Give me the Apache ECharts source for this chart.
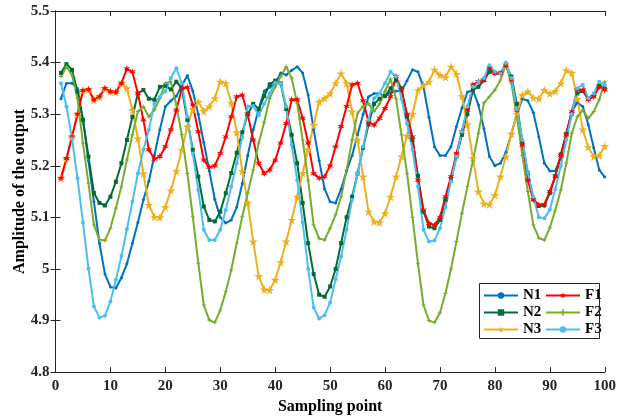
<!DOCTYPE html>
<html>
<head>
<meta charset="utf-8">
<script src="https://cdn.jsdelivr.net/npm/echarts@6/dist/echarts.min.js"></script>
<style>
  html, body { margin: 0; padding: 0; background: #fff; }
  #chart { width: 619px; height: 420px; }
</style>
</head>
<body>
<div id="chart"></div>
<script>
  // sampled outputs, one value per sampling point 1..100
  var n1 = [
    5.33, 5.36, 5.36, 5.35, 5.29, 5.21, 5.13, 5.05, 4.99, 4.965,
    4.963, 4.983, 5.01, 5.05, 5.09, 5.134, 5.17, 5.22, 5.27, 5.315,
    5.326, 5.335, 5.355, 5.375, 5.345, 5.30, 5.245, 5.19, 5.135, 5.10,
    5.089, 5.095, 5.12, 5.165, 5.22, 5.27, 5.31, 5.345, 5.352, 5.36,
    5.38, 5.376, 5.385, 5.392, 5.38, 5.337, 5.27, 5.21, 5.155, 5.13,
    5.128, 5.155, 5.19, 5.22, 5.26, 5.30, 5.334, 5.34, 5.34, 5.334,
    5.342, 5.345, 5.345, 5.365, 5.386, 5.382, 5.353, 5.294, 5.237, 5.22,
    5.22, 5.237, 5.276, 5.312, 5.343, 5.346, 5.318, 5.272, 5.218, 5.2,
    5.205, 5.226, 5.262, 5.3, 5.33, 5.326, 5.303, 5.256, 5.205, 5.19,
    5.19, 5.216, 5.263, 5.305, 5.322, 5.315, 5.28, 5.235, 5.192, 5.178
  ]
  var n2 = [
    5.38, 5.397, 5.386, 5.344, 5.289, 5.218, 5.147, 5.128, 5.123, 5.14,
    5.169, 5.205, 5.25, 5.295, 5.34, 5.347, 5.33, 5.328, 5.353, 5.355,
    5.348, 5.363, 5.35, 5.289, 5.231, 5.179, 5.121, 5.095, 5.092, 5.111,
    5.147, 5.186, 5.225, 5.265, 5.30, 5.32, 5.31, 5.335, 5.358, 5.365,
    5.36, 5.31, 5.26, 5.205, 5.128, 5.05, 4.99, 4.95, 4.946, 4.966,
    5.0, 5.05, 5.10, 5.14, 5.185, 5.235, 5.28, 5.32, 5.33, 5.335,
    5.35, 5.366, 5.35, 5.295, 5.25, 5.18, 5.111, 5.082, 5.079, 5.095,
    5.134, 5.172, 5.218, 5.26, 5.30, 5.347, 5.353, 5.366, 5.382, 5.38,
    5.38, 5.395, 5.373, 5.32, 5.245, 5.186, 5.135, 5.122, 5.123, 5.147,
    5.18, 5.222, 5.262, 5.3, 5.34, 5.345, 5.33, 5.335, 5.355, 5.35
  ]
  var n3 = [
    5.176, 5.214, 5.256, 5.30, 5.346, 5.348, 5.328, 5.334, 5.35, 5.344,
    5.343, 5.36, 5.35, 5.308, 5.253, 5.185, 5.124, 5.101, 5.10, 5.12,
    5.152, 5.19, 5.231, 5.276, 5.31, 5.324, 5.306, 5.315, 5.331, 5.363,
    5.36, 5.322, 5.265, 5.19, 5.128, 5.053, 4.986, 4.96, 4.959, 4.979,
    5.013, 5.053, 5.095, 5.14, 5.186, 5.232, 5.279, 5.324, 5.331, 5.34,
    5.36, 5.379, 5.36, 5.305, 5.25, 5.179, 5.111, 5.092, 5.09, 5.108,
    5.14, 5.179, 5.218, 5.258, 5.30, 5.347, 5.356, 5.363, 5.386, 5.376,
    5.372, 5.392, 5.378, 5.335, 5.28, 5.215, 5.15, 5.127, 5.125, 5.143,
    5.179, 5.218, 5.262, 5.3, 5.337, 5.344, 5.332, 5.33, 5.347, 5.34,
    5.345, 5.36, 5.385, 5.38, 5.33, 5.27, 5.236, 5.218, 5.22, 5.238
  ]
  var f1 = [
    5.176, 5.214, 5.256, 5.30, 5.346, 5.348, 5.328, 5.334, 5.35, 5.344,
    5.343, 5.36, 5.388, 5.382, 5.34, 5.289, 5.231, 5.213, 5.218, 5.237,
    5.27, 5.308, 5.35, 5.352, 5.318, 5.266, 5.211, 5.197, 5.2, 5.224,
    5.256, 5.295, 5.334, 5.337, 5.30, 5.25, 5.205, 5.185, 5.192, 5.211,
    5.244, 5.282, 5.328, 5.328, 5.292, 5.244, 5.185, 5.176, 5.179, 5.2,
    5.237, 5.276, 5.315, 5.357, 5.36, 5.326, 5.285, 5.279, 5.292, 5.311,
    5.334, 5.373, 5.347, 5.30, 5.256, 5.172, 5.114, 5.088, 5.085, 5.10,
    5.14, 5.179, 5.224, 5.266, 5.308, 5.357, 5.363, 5.366, 5.389, 5.379,
    5.379, 5.395, 5.366, 5.308, 5.24, 5.172, 5.134, 5.124, 5.125, 5.15,
    5.18, 5.22, 5.26, 5.305, 5.347, 5.347, 5.328, 5.334, 5.353, 5.347
  ]
  var f2 = [
    5.373, 5.392, 5.376, 5.331, 5.244, 5.166, 5.085, 5.057, 5.055, 5.079,
    5.118, 5.16, 5.211, 5.26, 5.305, 5.315, 5.295, 5.308, 5.331, 5.36,
    5.363, 5.318, 5.26, 5.185, 5.101, 5.011, 4.93, 4.901, 4.896, 4.92,
    4.956, 4.998, 5.05, 5.101, 5.147, 5.192, 5.244, 5.285, 5.331, 5.353,
    5.373, 5.392, 5.37, 5.321, 5.25, 5.172, 5.085, 5.059, 5.056, 5.079,
    5.105, 5.14, 5.192, 5.25, 5.302, 5.315, 5.32, 5.305, 5.32, 5.345,
    5.368, 5.33, 5.26, 5.185, 5.10, 5.01, 4.93, 4.90, 4.896, 4.915,
    4.953, 5.0, 5.053, 5.108, 5.16, 5.21, 5.263, 5.322, 5.334, 5.347,
    5.366, 5.397, 5.36, 5.295, 5.22, 5.15, 5.085, 5.06, 5.056, 5.08,
    5.114, 5.153, 5.205, 5.263, 5.295, 5.308, 5.292, 5.305, 5.328, 5.363
  ]
  var f3 = [
    5.36, 5.315, 5.253, 5.176, 5.09, 5.001, 4.927, 4.906, 4.909, 4.937,
    4.979, 5.025, 5.077, 5.13, 5.185, 5.231, 5.27, 5.32, 5.334, 5.344,
    5.37, 5.389, 5.36, 5.295, 5.224, 5.153, 5.076, 5.056, 5.056, 5.076,
    5.114, 5.16, 5.205, 5.255, 5.315, 5.316, 5.298, 5.32, 5.34, 5.361,
    5.36, 5.315, 5.24, 5.172, 5.09, 5.0, 4.925, 4.904, 4.91, 4.935,
    4.98, 5.024, 5.076, 5.134, 5.185, 5.237, 5.289, 5.331, 5.34, 5.36,
    5.382, 5.373, 5.33, 5.282, 5.231, 5.16, 5.076, 5.053, 5.055, 5.079,
    5.12, 5.17, 5.218, 5.266, 5.315, 5.353, 5.363, 5.37, 5.395, 5.382,
    5.379, 5.40, 5.37, 5.31, 5.25, 5.186, 5.14, 5.10, 5.098, 5.115,
    5.155, 5.2, 5.25, 5.3, 5.35, 5.357, 5.331, 5.34, 5.363, 5.357
  ]

  var FONT = 'Liberation Serif'
  var starPath = 'path://M50,0 L61,35 L98,35 L68,57 L79,91 L50,70 L21,91 L32,57 L2,35 L39,35 Z'
  var asterPath = 'path://M50,0 L60,33 L93,25 L70,50 L93,75 L60,67 L50,100 L40,67 L7,75 L30,50 L7,25 L40,33 Z'
  var plusPath = 'path://M38,0 H62 V38 H100 V62 H62 V100 H38 V62 H0 V38 H38 Z'

  function pts (arr) {
    return arr.map(function (v, i) { return [i + 1, v] })
  }

  function line (name, arr, color, symbol, size) {
    return {
      name: name,
      type: 'line',
      data: pts(arr),
      symbol: symbol,
      symbolSize: size,
      showAllSymbol: true,
      lineStyle: { color: color, width: 2 },
      itemStyle: { color: color },
      emphasis: { disabled: true }
    }
  }

  var axisLine = { show: true, lineStyle: { color: '#262626', width: 1 } }
  var tick = { inside: true, length: 5, lineStyle: { color: '#262626' } }
  var labelFont = { fontFamily: FONT, fontWeight: 'bold', fontSize: 15, color: '#262626' }
  var nameFont = { fontFamily: FONT, fontWeight: 'bold', fontSize: 16, color: '#000' }
  var legendText = { fontFamily: FONT, fontWeight: 'bold', fontSize: 15, color: '#000' }

  var chart = echarts.init(document.getElementById('chart'))
  chart.setOption({
    animation: false,
    grid: { left: 55.5, right: 10.5, top: 11, bottom: 47.5 },
    legend: [
      {
        data: ['N1', 'N2', 'N3'],
        orient: 'vertical',
        left: 478, top: 283,
        itemWidth: 34, itemHeight: 8, itemGap: 2,
        textStyle: legendText
      },
      {
        data: ['F1', 'F2', 'F3'],
        orient: 'vertical',
        left: 540, top: 283,
        itemWidth: 34, itemHeight: 8, itemGap: 2,
        textStyle: legendText
      }
    ],
    graphic: [{
      type: 'rect',
      shape: { x: 479.5, y: 283.5, width: 120, height: 55 },
      style: { fill: 'none', stroke: '#262626', lineWidth: 1 },
      z: 100
    }],
    xAxis: [
      {
        type: 'value', min: 0, max: 100, interval: 10,
        name: 'Sampling point', nameLocation: 'middle', nameGap: 25,
        nameTextStyle: nameFont,
        axisLine: axisLine,
        axisTick: tick,
        axisLabel: Object.assign({ margin: 7 }, labelFont),
        splitLine: { show: false }
      },
      {
        type: 'value', min: 0, max: 100, interval: 10, position: 'top',
        axisLine: axisLine,
        axisTick: tick,
        axisLabel: { show: false },
        splitLine: { show: false }
      }
    ],
    yAxis: [
      {
        type: 'value', min: 4.8, max: 5.5, interval: 0.1,
        name: 'Amplitude of the output', nameLocation: 'middle', nameGap: 28,
        nameMoveOverlap: false,
        nameTextStyle: nameFont,
        axisLine: axisLine,
        axisTick: tick,
        axisLabel: Object.assign({ margin: 6 }, labelFont),
        splitLine: { show: false }
      },
      {
        type: 'value', min: 4.8, max: 5.5, interval: 0.1, position: 'right',
        axisLine: axisLine,
        axisTick: tick,
        axisLabel: { show: false },
        splitLine: { show: false }
      }
    ],
    series: [
      line('N1', n1, '#0072BD', 'circle', 3),
      line('N2', n2, '#006B35', 'rect', 4),
      line('N3', n3, '#EDB120', starPath, 9),
      line('F1', f1, '#FF0000', asterPath, 7),
      line('F2', f2, '#77AC30', plusPath, 4),
      line('F3', f3, '#4DBEEE', 'circle', 4)
    ]
  })
</script>
</body>
</html>
